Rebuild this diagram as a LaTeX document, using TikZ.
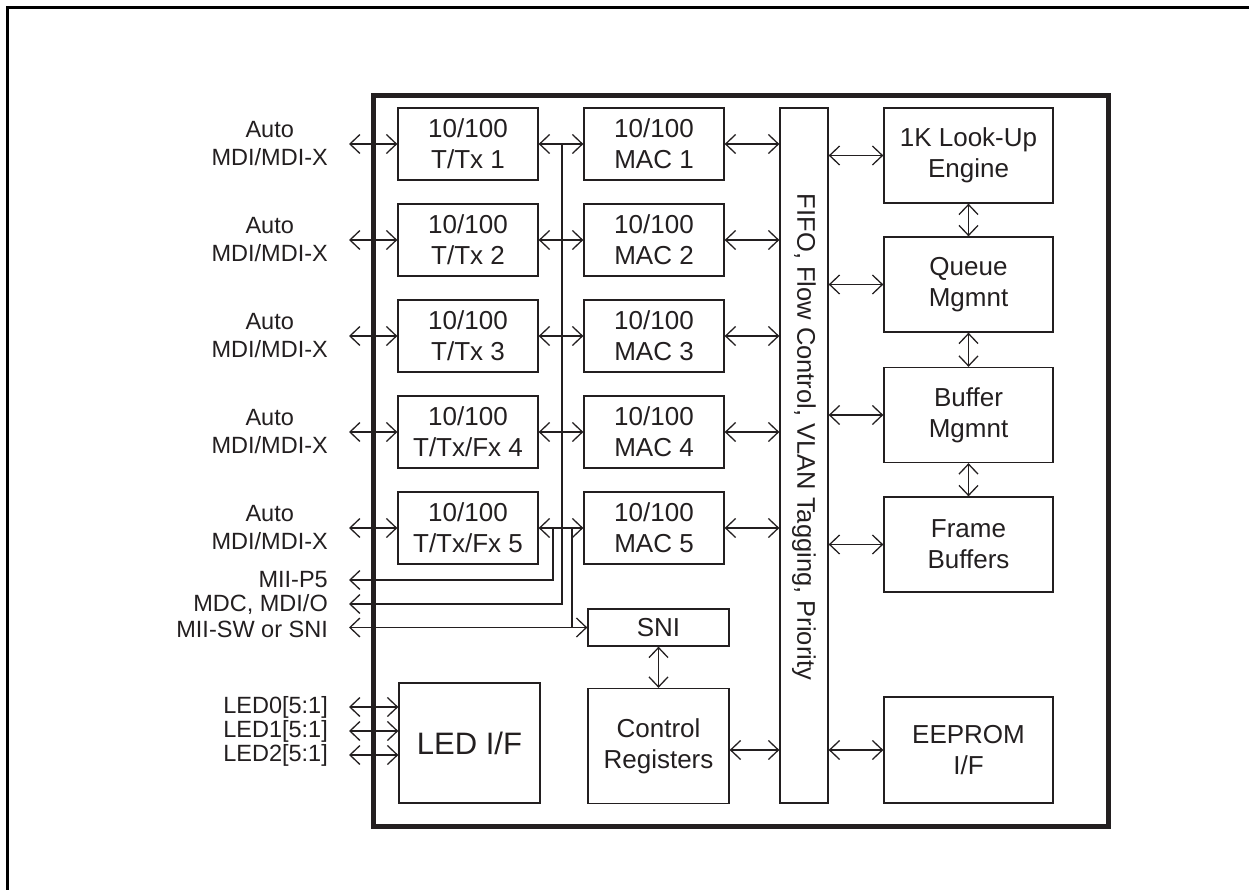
\documentclass[tikz,border=0pt]{standalone}
\usepackage{fontspec}
\setmainfont{Liberation Sans}
\usetikzlibrary{arrows.meta}
\definecolor{ink}{HTML}{231F20}
\begin{document}
\begin{tikzpicture}[x=1pt,y=-1pt,
  >={Straight Barb[length=10pt,width=19pt]},
  box/.style={draw=ink, line width=1.3pt, inner sep=0pt, align=center,
    font=\fontsize{26}{31}\selectfont, text=ink},
  lbl/.style={font=\fontsize{23.5}{28}\selectfont, text=ink, inner sep=0pt,
    align=center, anchor=east},
  conn/.style={draw=ink, line width=1.3pt},
  phy/.style={box, minimum width=140pt, minimum height=72pt},
  mac/.style={box, minimum width=140pt, minimum height=72pt},
  rbox/.style={box, minimum width=169pt, minimum height=95pt},
]
\useasboundingbox (0,0) rectangle (1249,890);
\clip (0,0) rectangle (1249,890);
% outer frame
\draw[line width=3pt, black] (7,900) -- (7,8) -- (1260,8);
% chip border
\draw[line width=5pt, ink] (373,96) rectangle (1108,826);

% PHY and MAC boxes
\foreach \i/\y/\t in {1/144/{T/Tx 1}, 2/240/{T/Tx 2}, 3/336/{T/Tx 3}, 4/432/{T/Tx/Fx 4}, 5/528/{T/Tx/Fx 5}}{
  \node[phy] (t\i) at (468,\y) {10/100\\\t};
  \node[mac] (m\i) at (654,\y) {10/100\\MAC \i};
  \node[lbl] (a\i) at (328,\y) {Auto\\MDI/MDI-X};
  \coordinate (p\i) at (349,\y);
}

% FIFO
\node[draw=ink, line width=1.3pt, minimum width=48pt, minimum height=695pt, inner sep=0pt] (fifo) at (804,455.5) {};
\node[rotate=-90, font=\fontsize{25.5}{31}\selectfont, text=ink, inner sep=0pt] (fifotxt) at (804,437) {FIFO, Flow Control, VLAN Tagging, Priority};

% right column
\node[rbox] (k) at (968.5,155.5) {1K Look-Up\\Engine};
\node[rbox] (q) at (968.5,284.5) {Queue\\Mgmnt};
\node[rbox] (b) at (968.5,415) {Buffer\\Mgmnt};
\node[rbox] (f) at (968.5,544.5) {Frame\\Buffers};
\node[rbox, minimum height=106pt] (e) at (968.5,750) {EEPROM\\I/F};

% SNI, control, LED
\node[box, minimum width=141pt, minimum height=37pt] (sni) at (658.5,627.5) {SNI};
\node[box, minimum width=141pt, minimum height=115pt] (ctrl) at (658.5,746) {Control\\Registers};
\node[box, minimum width=141pt, minimum height=120pt, font=\fontsize{31}{36}\selectfont] (led) at (469.5,743) {LED I/F};

% left labels (MII etc.)
\node[lbl] (lp5) at (328,580) {MII-P5};
\node[lbl] (lmdc) at (328,604) {MDC, MDI/O};
\node[lbl] (lsw) at (328,629) {MII-SW or SNI};
\node[lbl] (l0) at (328,707) {LED0[5:1]};
\node[lbl] (l1) at (328,731) {LED1[5:1]};
\node[lbl] (l2) at (328,755) {LED2[5:1]};

% connectors
\foreach \i in {1,...,5}{
  \draw[conn,<->] (p\i) -- (t\i.west);
  \draw[conn,<->] (t\i.east) -- (m\i.west);
  \draw[conn,<->] (m\i.east) -- (m\i.east -| fifo.west);
}
\foreach \n in {k,q,b,f,e}{
  \draw[conn,<->] (fifo.east |- \n.west) -- (\n.west);
}
\draw[conn,<->] (k.south) -- (q.north);
\draw[conn,<->] (q.south) -- (b.north);
\draw[conn,<->] (b.south) -- (f.north);

% bus lines
\coordinate (busTop) at (562,144);
\coordinate (busBot) at (562,604);
\coordinate (mdcEnd) at (349,604);
\draw[conn,->] (busTop) -- (busBot) -- (mdcEnd);
\coordinate (p5a) at (553,528);
\coordinate (p5b) at (553,580);
\coordinate (p5End) at (349,580);
\draw[conn,->] (p5a) -- (p5b) -- (p5End);
\coordinate (swa) at (572,528);
\coordinate (swb) at (572,627.5);
\coordinate (swEnd) at (349,627.5);
\draw[conn] (swa) -- (swb);
\draw[conn,<->] (swEnd) -- (sni.west);

\draw[conn,<->] (sni.south) -- (ctrl.north);
\draw[conn,<->] (ctrl.east |- e.west) -- (ctrl.east |- e.west -| fifo.west);

\coordinate (led0) at (349,707);
\coordinate (led1) at (349,731);
\coordinate (led2) at (349,755);
\draw[conn,<->] (led0) -- (led0 -| led.west);
\draw[conn,<->] (led1) -- (led1 -| led.west);
\draw[conn,<->] (led2) -- (led2 -| led.west);
\end{tikzpicture}
\end{document}
